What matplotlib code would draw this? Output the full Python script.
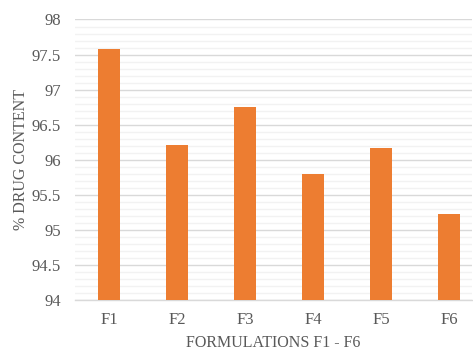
import matplotlib
matplotlib.use("Agg")
import matplotlib.pyplot as plt
from matplotlib.ticker import MultipleLocator

formulations = ["F1", "F2", "F3", "F4", "F5", "F6"]
drug_content = [97.58, 96.21, 96.75, 95.79, 96.17, 95.23]

plt.rcParams["font.family"] = ["Liberation Serif", "DejaVu Serif"]

fig = plt.figure(figsize=(4.73, 3.5), dpi=100)
ax = fig.add_axes([0.1586, 0.1429, 0.8394, 0.8014])

x = range(len(formulations))
ax.bar(x, drug_content, width=0.33, color="#ED7D31", zorder=3)

ax.set_ylim(94, 98)
ax.set_xlim(-0.5, 5.34)
ax.yaxis.set_minor_locator(MultipleLocator(0.1))
ax.set_yticks([94, 94.5, 95, 95.5, 96, 96.5, 97, 97.5, 98])
ax.set_yticklabels(["94", "94.5", "95", "95.5", "96", "96.5", "97", "97.5", "98"])
ax.set_xticks(list(x))
ax.set_xticklabels(formulations)

ax.grid(axis="y", which="major", color="#d9d9d9", linewidth=1.0, zorder=0)
ax.grid(axis="y", which="minor", color="#f2f2f2", linewidth=1.0, zorder=0)

for side in ["top", "right", "left"]:
    ax.spines[side].set_visible(False)
ax.spines["bottom"].set_color("#d9d9d9")
ax.spines["bottom"].set_linewidth(1.0)

ax.tick_params(axis="both", which="both", length=0, colors="#595959", labelsize=12)
ax.tick_params(axis="y", pad=10)
ax.tick_params(axis="x", pad=9)

ax.set_xlabel("FORMULATIONS F1 - F6", fontsize=11.5, color="#595959", labelpad=5)
ax.set_ylabel("% DRUG CONTENT", fontsize=11.5, color="#595959", labelpad=2)

fig.savefig("out.png", dpi=100)
